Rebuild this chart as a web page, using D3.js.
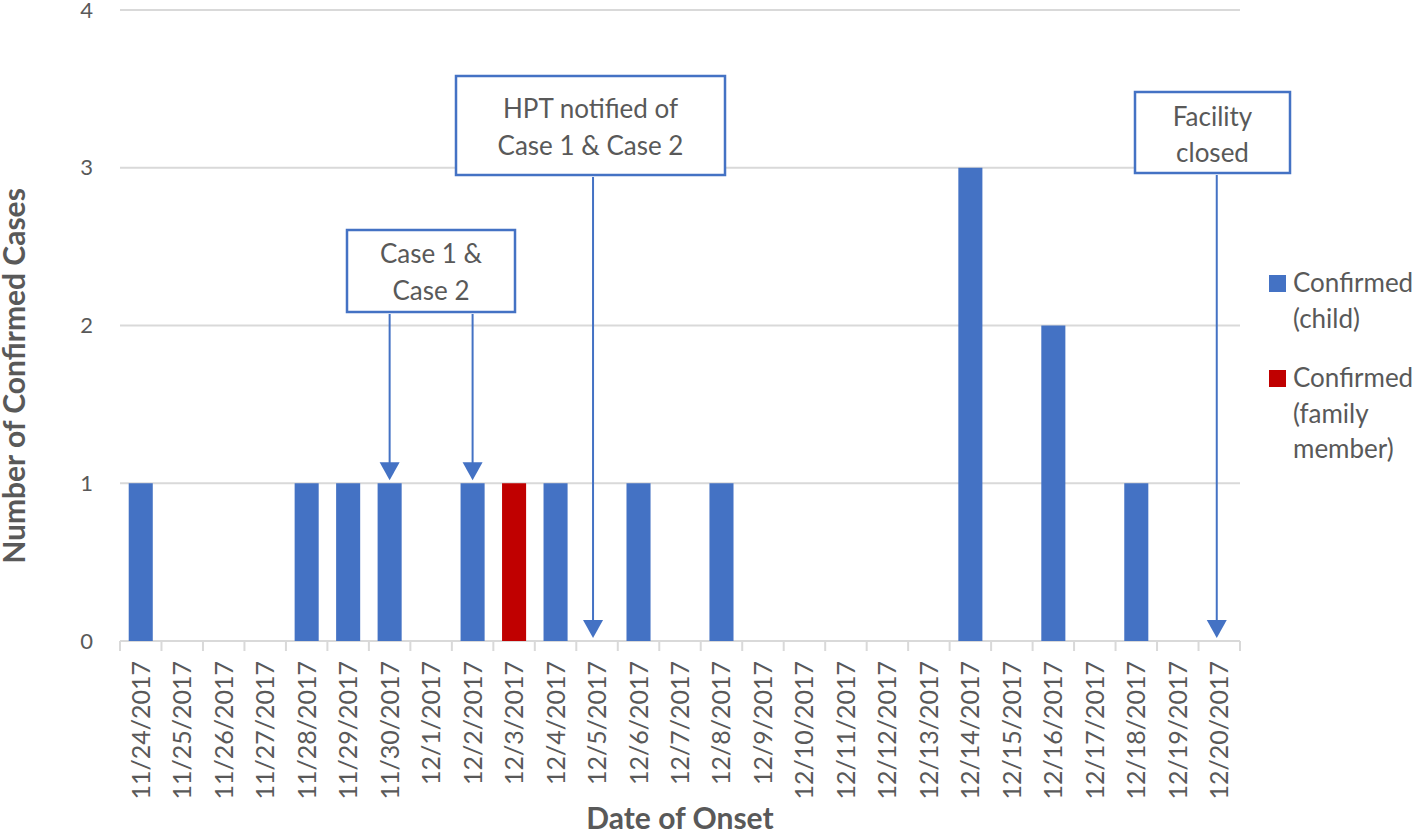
<!DOCTYPE html>
<html>
<head>
<meta charset="utf-8">
<script src="https://cdn.jsdelivr.net/npm/d3@7"></script>
<style>
  html, body { margin: 0; padding: 0; background: #fff; }
  svg { display: block; }
  text { font-family: Lato, "Open Sans", sans-serif; fill: #595959; }
</style>
</head>
<body>
<svg id="chart" width="1418" height="831"></svg>
<script>
// ---- data ----
const categories = ["11/24/2017","11/25/2017","11/26/2017","11/27/2017","11/28/2017","11/29/2017","11/30/2017",
  "12/1/2017","12/2/2017","12/3/2017","12/4/2017","12/5/2017","12/6/2017","12/7/2017","12/8/2017","12/9/2017",
  "12/10/2017","12/11/2017","12/12/2017","12/13/2017","12/14/2017","12/15/2017","12/16/2017","12/17/2017",
  "12/18/2017","12/19/2017","12/20/2017"];
const childCases  = [1,0,0,0,1,1,1,0,1,0,1,0,1,0,1,0,0,0,0,0,3,0,2,0,1,0,0];
const familyCases = [0,0,0,0,0,0,0,0,0,1,0,0,0,0,0,0,0,0,0,0,0,0,0,0,0,0,0];
const seriesNames = ["Confirmed (child)", "Confirmed (family member)"];
const yTicks = [0,1,2,3,4];
const yTitle = "Number of Confirmed Cases";
const xTitle = "Date of Onset";
const annotationTexts = [["Case 1 &","Case 2"], ["HPT notified of","Case 1 & Case 2"], ["Facility","closed"]];
const annotationTargets = [[["11/30/2017",1],["12/2/2017",1]], [["12/5/2017",0]], [["12/20/2017",0]]];

// ---- layout ----
const colors = ["#4472c4", "#c00000"];
const plot = {left: 120, right: 1240, top: 10, bottom: 641};
const boxes = [
  {x: 347, y: 230, w: 168, h: 82, baselines: [263, 300], dx: [0, 0]},
  {x: 456, y: 76, w: 269, h: 99, baselines: [118, 155], dx: [-4]},
  {x: 1135, y: 92, w: 155, h: 81, baselines: [126, 162], dx: [-2.5]}
];

const svg = d3.select("#chart");

const x = d3.scaleBand().domain(categories).range([plot.left, plot.right])
  .paddingInner(0.42).paddingOuter(0.21);
const y = d3.scaleLinear().domain([0, 4]).range([plot.bottom, plot.top]);

// gridlines
svg.append("g").selectAll("line").data(yTicks).join("line")
  .attr("x1", plot.left).attr("x2", plot.right)
  .attr("y1", d => y(d)).attr("y2", d => y(d))
  .attr("stroke", "#d9d9d9").attr("stroke-width", 2);

// y tick labels
svg.append("g").selectAll("text").data(yTicks).join("text")
  .attr("x", 93).attr("y", d => y(d)).attr("dy", "0.35em")
  .attr("text-anchor", "end").attr("font-size", 22).text(d => d);

// x axis ticks (category boundaries)
const step = x.step();
const bounds = d3.range(categories.length + 1).map(i => plot.left + i * step);
svg.append("g").selectAll("line").data(bounds).join("line")
  .attr("x1", d => d).attr("x2", d => d)
  .attr("y1", plot.bottom).attr("y2", plot.bottom + 10)
  .attr("stroke", "#d9d9d9").attr("stroke-width", 2);

// bars
const stacked = categories.map((c, i) => ({c, v: [childCases[i], familyCases[i]]}));
[0, 1].forEach(s => {
  svg.append("g").selectAll("rect").data(stacked.filter(d => d.v[s] > 0)).join("rect")
    .attr("x", d => x(d.c)).attr("width", x.bandwidth())
    .attr("y", d => y((s === 1 ? d.v[0] : 0) + d.v[s]))
    .attr("height", d => y(s === 1 ? d.v[0] : 0) - y((s === 1 ? d.v[0] : 0) + d.v[s]))
    .attr("fill", colors[s]);
});

// x tick labels
svg.append("g").selectAll("text").data(categories).join("text")
  .attr("transform", d => `translate(${x(d) + x.bandwidth() / 2},661) rotate(-90)`)
  .attr("dy", "0.36em").attr("text-anchor", "end").attr("font-size", 25).text(d => d);

// axis titles
svg.append("text").attr("transform", "translate(14,376) rotate(-90)")
  .attr("dy", "0.36em").attr("text-anchor", "middle")
  .attr("font-size", 30).attr("font-weight", "bold").text(yTitle);
svg.append("text").attr("x", 680).attr("y", 829)
  .attr("text-anchor", "middle")
  .attr("font-size", 30).attr("font-weight", "bold").text(xTitle);

// annotations
annotationTexts.forEach((lines, k) => {
  const b = boxes[k];
  const g = svg.append("g");
  annotationTargets[k].forEach((t, j) => {
    const ax = x(t[0]) + x.bandwidth() / 2 + b.dx[j];
    const tipY = y(t[1]) - 3;
    g.append("line").attr("x1", ax).attr("x2", ax)
      .attr("y1", b.y + b.h + 2).attr("y2", tipY - 16)
      .attr("stroke", colors[0]).attr("stroke-width", 2);
    g.append("path")
      .attr("d", `M${ax - 10},${tipY - 18} L${ax + 10},${tipY - 18} L${ax},${tipY} Z`)
      .attr("fill", colors[0]);
  });
  g.append("rect").attr("x", b.x).attr("y", b.y).attr("width", b.w).attr("height", b.h)
    .attr("fill", "#fff").attr("stroke", colors[0]).attr("stroke-width", 2.5);
  lines.forEach((ln, i) => {
    g.append("text").attr("x", b.x + b.w / 2).attr("y", b.baselines[i])
      .attr("text-anchor", "middle").attr("font-size", 26).text(ln);
  });
});

// legend
const legendLines = [["Confirmed", "(child)"], ["Confirmed", "(family", "member)"]];
const legendTop = [292, 387];
legendLines.forEach((lines, s) => {
  svg.append("rect").attr("x", 1269).attr("y", legendTop[s] - 17).attr("width", 17).attr("height", 17)
    .attr("fill", colors[s]);
  lines.forEach((ln, i) => {
    svg.append("text").attr("x", 1293).attr("y", legendTop[s] + i * 35.5)
      .attr("font-size", 26).text(ln);
  });
});
</script>
</body>
</html>
